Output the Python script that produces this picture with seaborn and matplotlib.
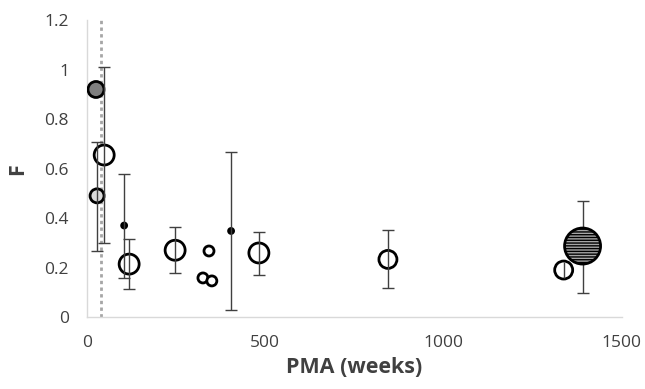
import matplotlib
matplotlib.use("Agg")
import matplotlib.pyplot as plt
import seaborn as sns
import pandas as pd
import numpy as np

sns.set_theme(style="white")
plt.rcParams['font.family'] = ['Open Sans', 'DejaVu Sans']
plt.rcParams['hatch.color'] = '#262626'
plt.rcParams['hatch.linewidth'] = 1.0

# data
pma = [25, 28, 48, 104, 118, 247, 325, 342, 350, 404, 482, 844, 1337, 1390]
f_val = [0.92, 0.49, 0.655, 0.37, 0.214, 0.27, 0.158, 0.267, 0.146, 0.348, 0.259, 0.233, 0.19, 0.287]
err_lo = [np.nan, 0.267, 0.30, 0.158, 0.113, 0.18, np.nan, np.nan, np.nan, 0.028, 0.17, 0.117, 0.158, 0.098]
err_hi = [np.nan, 0.707, 1.01, 0.578, 0.315, 0.365, np.nan, np.nan, np.nan, 0.667, 0.345, 0.352, 0.222, 0.47]
has_cap = [True, True, True, True, True, True, True, True, True, True, True, True, False, True]
study = ["A", "B", "C", "D", "E", "F", "G", "G", "G", "H", "I", "J", "K", "L"]
marker_r = [8, 7, 10, 2.5, 10, 10, 5, 5, 5, 2.5, 10, 9, 9, 18]
face = ["#7f7f7f", "#d9d9d9", "white", "black", "white", "white", "white", "white", "white",
        "black", "white", "white", "white", "#a6a6a6"]
ref_line_x = 40

df = pd.DataFrame(dict(pma=pma, F=f_val, lo=err_lo, hi=err_hi, cap=has_cap, study=study,
                       r=marker_r, face=face))

fig, ax = plt.subplots(figsize=(6.45, 3.89), dpi=100)
fig.subplots_adjust(left=0.135, right=0.964, top=0.948, bottom=0.185)

# reference dotted line
ax.axvline(ref_line_x, color="#a6a6a6", ls=(0, (1.2, 1.2)), lw=2, zorder=1)

# markers
normal = df[df["face"] != "#a6a6a6"]
sns.scatterplot(data=normal, x="pma", y="F", s=(normal["r"] * 2 * 0.72) ** 2,
                c=normal["face"].tolist(), edgecolor="black", linewidth=2,
                ax=ax, zorder=3, legend=False)

# error bars (drawn over the open markers)
eb = df.dropna(subset=["lo"])
for cap, cs in [(True, 4), (False, 0)]:
    sub = eb[eb["cap"] == cap]
    ax.errorbar(sub["pma"], sub["F"], yerr=[sub["F"] - sub["lo"], sub["hi"] - sub["F"]],
                fmt="none", ecolor="#404040", elinewidth=1, capsize=cs, capthick=1, zorder=4)

big = df[df["face"] == "#a6a6a6"]
ax.scatter(big["pma"], big["F"], s=(big["r"] * 2 * 0.72) ** 2, facecolor="#a6a6a6",
           edgecolor="black", linewidth=2, hatch="------", zorder=5)

ax.set_xlim(0, 1500)
ax.set_ylim(0, 1.2)
ax.set_xticks([0, 500, 1000, 1500])
ax.set_yticks([0, 0.2, 0.4, 0.6, 0.8, 1.0, 1.2])
ax.set_yticklabels(["0", "0.2", "0.4", "0.6", "0.8", "1", "1.2"])
ax.tick_params(axis="y", labelsize=12.5, colors="#404040", length=0, pad=13)
ax.tick_params(axis="x", labelsize=12.5, labelcolor="#404040", length=5, color="#d9d9d9",
               direction="out", width=1, pad=8)
for s in ["top", "right"]:
    ax.spines[s].set_visible(False)
for s in ["left", "bottom"]:
    ax.spines[s].set_color("#d9d9d9")
    ax.spines[s].set_linewidth(1)
ax.set_xlabel("PMA (weeks)", fontsize=15.5, fontweight="bold", color="#404040", labelpad=4)
ax.set_ylabel("F", fontsize=15.5, fontweight="bold", color="#404040", labelpad=12)

fig.savefig("out.png", dpi=100)
